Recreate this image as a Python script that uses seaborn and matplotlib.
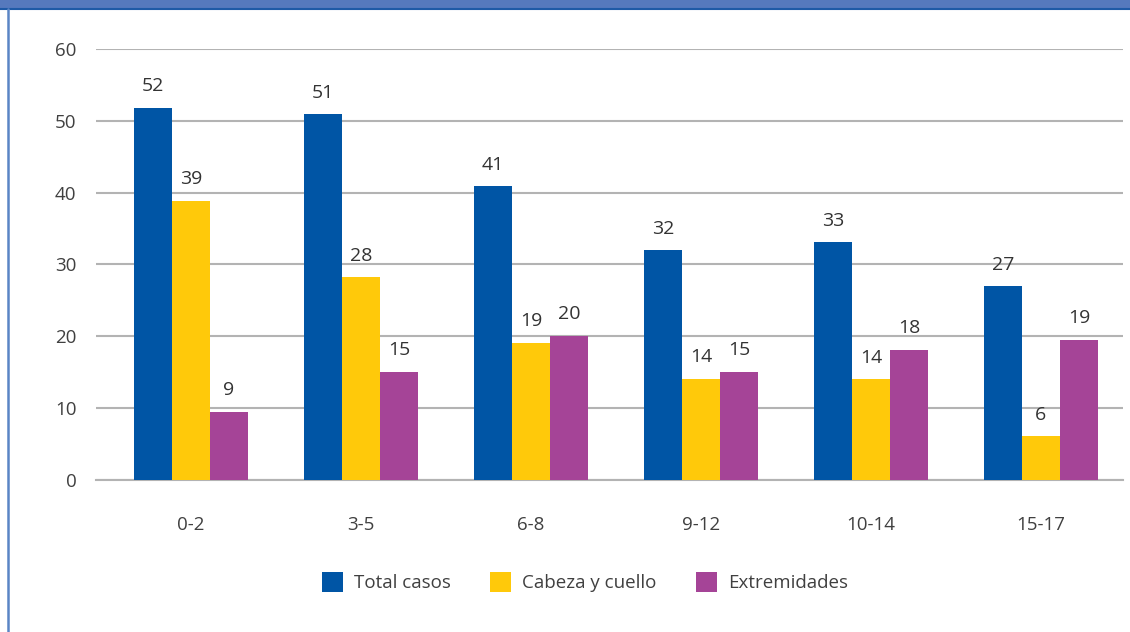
import matplotlib
matplotlib.use("Agg")
import matplotlib.pyplot as plt
import seaborn as sns
import pandas as pd
from matplotlib.patches import Rectangle
from matplotlib.lines import Line2D

categories = ["0-2", "3-5", "6-8", "9-12", "10-14", "15-17"]
series_names = ["Total casos", "Cabeza y cuello", "Extremidades"]
total_casos = [51.8, 50.9, 40.9, 32.0, 33.1, 27.0]
cabeza_cuello = [38.9, 28.2, 19.1, 14.1, 14.0, 6.1]
extremidades = [9.5, 15.1, 20.1, 15.1, 18.1, 19.5]
total_labels = ["52", "51", "41", "32", "33", "27"]
cabeza_labels = ["39", "28", "19", "14", "14", "6"]
extrem_labels = ["9", "15", "20", "15", "18", "19"]
y_ticks = [0, 10, 20, 30, 40, 50, 60]

colors = ["#0055A5", "#FFC90A", "#A54497"]

sns.set_theme(style="white")
plt.rcParams["font.family"] = ["Open Sans", "DejaVu Sans"]

rows = []
for name, vals in zip(series_names, [total_casos, cabeza_cuello, extremidades]):
    for c, v in zip(categories, vals):
        rows.append({"Grupo": c, "Serie": name, "Valor": v})
df = pd.DataFrame(rows)

fig = plt.figure(figsize=(11.3, 6.32), dpi=100)
ax = fig.add_axes([96 / 1130, 0.2405, (1123 - 96) / 1130, 0.682])

sns.barplot(data=df, x="Grupo", y="Valor", hue="Serie", order=categories,
            hue_order=series_names, palette=colors, width=0.67, gap=0,
            saturation=1, ax=ax, legend=False, zorder=3,
            linewidth=0, edgecolor="none")

for cont, labs in zip(ax.containers, [total_labels, cabeza_labels, extrem_labels]):
    ax.bar_label(cont, labels=labs, padding=9, fontsize=14, color="#333333")

ax.set_ylim(0, 60)
ax.set_xlim((96 - 191) / 170, (1123 - 191) / 170)
ax.set_yticks(y_ticks)
ax.set_yticklabels([str(t) for t in y_ticks])
ax.yaxis.grid(True, color="#B3B3B3", linewidth=1.5, zorder=0)
ax.set_axisbelow(True)
for s in ["top", "right", "left"]:
    ax.spines[s].set_visible(False)
ax.spines["bottom"].set_color("#B3B3B3")
ax.spines["bottom"].set_linewidth(1.5)
ax.set_xlabel("")
ax.set_ylabel("")
ax.tick_params(axis="y", length=0, pad=14, labelsize=13.5, labelcolor="#404040")
ax.tick_params(axis="x", length=0, pad=26, labelsize=13.5, labelcolor="#404040")

handles = [Rectangle((0, 0), 1, 1, facecolor=c, edgecolor="none") for c in colors]
fig.legend(handles, series_names, loc="center", bbox_to_anchor=(585 / 1130, 1 - 582 / 632),
           ncol=3, frameon=False, fontsize=13.5, handlelength=1.1, handleheight=1.3,
           columnspacing=2.1, handletextpad=0.6, labelcolor="#404040")

# banner and frame
fig.patches.append(Rectangle((0, 1 - 8 / 632), 1, 8 / 632, transform=fig.transFigure,
                             facecolor="#5679BD", edgecolor="none", zorder=10))
fig.lines.append(Line2D([0, 1], [1 - 9 / 632, 1 - 9 / 632], transform=fig.transFigure,
                        color="#1F5AA6", linewidth=1.5, zorder=11))
fig.lines.append(Line2D([8 / 1130, 8 / 1130], [0, 1 - 9 / 632], transform=fig.transFigure,
                        color="#5A85C5", linewidth=1.8, zorder=11))

fig.savefig("out.png", dpi=100)
